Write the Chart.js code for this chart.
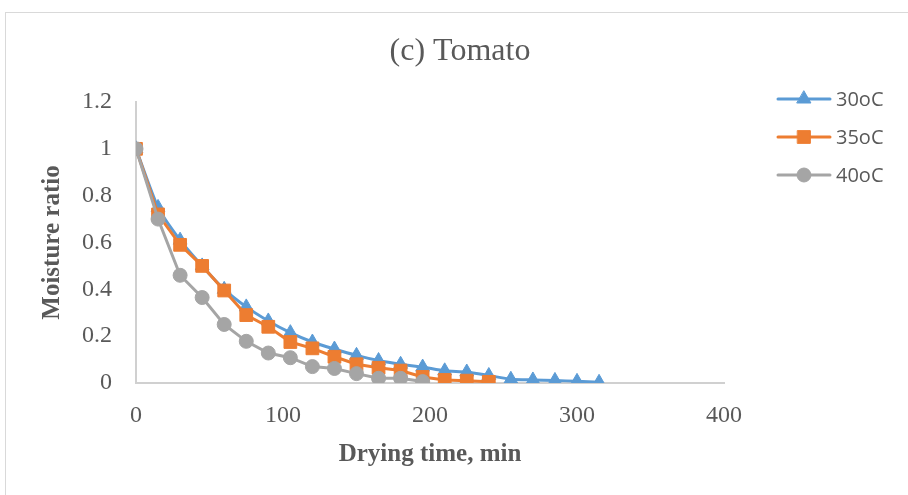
<!DOCTYPE html>
<html>
<head>
<meta charset="utf-8">
<script src="https://cdn.jsdelivr.net/npm/chart.js@4.4.1/dist/chart.umd.min.js"></script>
<style>
  html, body { margin: 0; padding: 0; background: #fff; }
  .wrap { position: relative; width: 908px; height: 495px; overflow: hidden; }
  .frame { position: absolute; left: 5px; top: 12px; width: 940px; height: 520px; border: 1px solid #d9d9d9; }
  canvas { position: absolute; left: 0; top: 0; }
</style>
</head>
<body>
<div class="wrap">
  <div class="frame"></div>
  <canvas id="chart" width="908" height="495"></canvas>
</div>
<script>
// Données (temps en minutes, ratio d'humidité)
const chartTitle = '(c) Tomato';
const seriesLabels = ['30oC', '35oC', '40oC'];

const time30 = [0, 15, 30, 45, 60, 75, 90, 105, 120, 135, 150, 165, 180, 195, 210, 225, 240, 255, 270, 285, 300, 315];
const mr30 = [1, 0.75, 0.61, 0.50, 0.40, 0.325, 0.265, 0.215, 0.175, 0.145, 0.118, 0.096, 0.08, 0.068, 0.052, 0.047, 0.032, 0.016, 0.013, 0.011, 0.007, 0.003];

const time35 = [0, 15, 30, 45, 60, 75, 90, 105, 120, 135, 150, 165, 180, 195, 210, 225, 240];
const mr35 = [1, 0.72, 0.59, 0.50, 0.395, 0.29, 0.24, 0.175, 0.148, 0.112, 0.08, 0.065, 0.053, 0.026, 0.013, 0.01, 0.005];

const time40 = [0, 15, 30, 45, 60, 75, 90, 105, 120, 135, 150, 165, 180, 195];
const mr40 = [1, 0.70, 0.46, 0.365, 0.25, 0.178, 0.128, 0.108, 0.07, 0.062, 0.04, 0.02, 0.02, 0.006];

const xTicks = [0, 100, 200, 300, 400];
const yTicks = [0, 0.2, 0.4, 0.6, 0.8, 1, 1.2];

const textGray = '#595959';
const serif = '"Liberation Serif", "Times New Roman", serif';

function toPoints(xs, ys) { return xs.map((x, i) => ({ x: x, y: ys[i] })); }

// Titre centré sur tout le cadre (pas seulement la zone du graphique)
const frameTitle = {
  id: 'frameTitle',
  afterDraw(chart) {
    const ctx = chart.ctx;
    ctx.save();
    ctx.fillStyle = textGray;
    ctx.font = '32px ' + serif;
    ctx.textAlign = 'center';
    ctx.textBaseline = 'middle';
    ctx.fillText(chartTitle, 460, 52);
    ctx.restore();
  }
};

// Légende dessinée à droite (trait + marqueur), comme dans Excel
const sideLegend = {
  id: 'sideLegend',
  afterDraw(chart) {
    const ctx = chart.ctx;
    chart.data.datasets.forEach((ds, i) => {
      const y = 99 + i * 38;
      ctx.save();
      ctx.strokeStyle = ds.borderColor;
      ctx.lineWidth = ds.borderWidth;
      ctx.lineCap = 'round';
      ctx.beginPath();
      ctx.moveTo(778, y);
      ctx.lineTo(830, y);
      ctx.stroke();
      ctx.fillStyle = ds.pointBackgroundColor;
      ctx.strokeStyle = ds.pointBorderColor;
      ctx.lineWidth = 1;
      Chart.helpers.drawPoint(ctx, { pointStyle: ds.pointStyle, radius: ds.pointRadius, borderWidth: 1, rotation: 0 }, 804, y);
      ctx.fillStyle = textGray;
      ctx.font = '20px "Open Sans", "Liberation Sans", sans-serif';
      ctx.textAlign = 'left';
      ctx.textBaseline = 'middle';
      ctx.fillText(ds.label, 836, y + 1);
      ctx.restore();
    });
  }
};

function makeDataset(label, color, style, radius, pts, order, tension) {
  return {
    label: label,
    data: pts,
    borderColor: color,
    backgroundColor: color,
    pointBackgroundColor: color,
    pointBorderColor: color,
    pointBorderWidth: 1,
    pointStyle: style,
    pointRadius: radius,
    borderWidth: 3,
    tension: tension,
    order: order
  };
}

new Chart(document.getElementById('chart'), {
  type: 'line',
  data: {
    datasets: [
      makeDataset(seriesLabels[0], '#5B9BD5', 'triangle', 8, toPoints(time30, mr30), 3, 0.2),
      makeDataset(seriesLabels[1], '#ED7D31', 'rect', 9, toPoints(time35, mr35), 2, 0),
      makeDataset(seriesLabels[2], '#A5A5A5', 'circle', 7, toPoints(time40, mr40), 1, 0)
    ]
  },
  options: {
    responsive: false,
    animation: false,
    events: [],
    layout: { padding: { left: 0, top: 102, right: 184, bottom: 0 } },
    plugins: {
      legend: { display: false },
      tooltip: { enabled: false },
      title: { display: false }
    },
    scales: {
      x: {
        type: 'linear',
        min: xTicks[0],
        max: xTicks[xTicks.length - 1],
        afterBuildTicks: s => { s.ticks = xTicks.map(v => ({ value: v })); },
        afterFit: s => { s.height = 112; },
        grid: { display: false, drawTicks: false },
        border: { display: true, color: '#d0d0d0', width: 2 },
        ticks: {
          color: textGray,
          padding: 18,
          font: { family: serif, size: 24 }
        },
        title: {
          display: true,
          text: 'Drying time, min',
          color: textGray,
          font: { family: serif, size: 25, weight: 'bold' },
          padding: { top: 0, bottom: 25 }
        }
      },
      y: {
        type: 'linear',
        min: yTicks[0],
        max: yTicks[yTicks.length - 1],
        afterBuildTicks: s => { s.ticks = yTicks.map(v => ({ value: v })); },
        afterFit: s => { s.width = 136; },
        grid: { display: false, drawTicks: false },
        border: { display: true, color: '#d0d0d0', width: 2 },
        ticks: {
          color: textGray,
          padding: 24,
          callback: v => String(+v.toFixed(1)),
          font: { family: serif, size: 24 }
        },
        title: {
          display: true,
          text: 'Moisture ratio',
          color: textGray,
          font: { family: serif, size: 25, weight: 'bold' },
          padding: { top: 38, bottom: 0 }
        }
      }
    }
  },
  plugins: [frameTitle, sideLegend]
});
</script>
</body>
</html>
